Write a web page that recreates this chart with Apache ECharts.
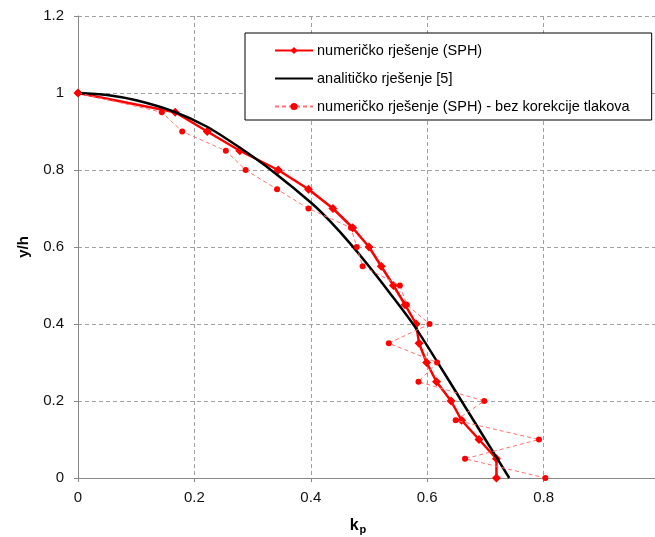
<!DOCTYPE html>
<html>
<head>
<meta charset="utf-8">
<script src="https://cdn.jsdelivr.net/npm/echarts@6/dist/echarts.min.js"></script>
<style>
html,body{margin:0;padding:0;background:#fff;}
#chart{width:655px;height:537px;}
</style>
</head>
<body>
<div id="chart"></div>
<script>
// y/h levels shared by both SPH series
const yLevels = [1, 0.95, 0.9, 0.85, 0.8, 0.75, 0.7, 0.65, 0.6, 0.55, 0.5, 0.45, 0.4, 0.35, 0.3, 0.25, 0.2, 0.15, 0.1, 0.05, 0];
// numeričko rješenje (SPH) - k_p values
const kpSPH = [0, 0.167, 0.222, 0.278, 0.344, 0.396, 0.438, 0.472, 0.500, 0.521, 0.542, 0.562, 0.581, 0.586, 0.599, 0.616, 0.641, 0.659, 0.689, 0.719, 0.719];
// numeričko rješenje (SPH) - bez korekcije tlakova
const kpNoCorr = [0, 0.144, 0.179, 0.254, 0.288, 0.342, 0.396, 0.469, 0.479, 0.489, 0.553, 0.565, 0.604, 0.534, 0.617, 0.585, 0.698, 0.649, 0.792, 0.665, 0.803];
// analitičko rješenje [5]
const kpAnalytic = [0, 0.05, 0.100, 0.164, 0.221, 0.279, 0.336, 0.402, 0.433, 0.470, 0.502, 0.536, 0.576, 0.616, 0.659, 0.700, 0.741];
const yAnalytic = [1, 0.995, 0.981, 0.952, 0.913, 0.857, 0.795, 0.713, 0.667, 0.605, 0.546, 0.480, 0.399, 0.305, 0.200, 0.100, 0];

const seriesNames = ['numeričko rješenje (SPH)', 'analitičko rješenje [5]', 'numeričko rješenje (SPH) - bez korekcije tlakova'];
const xTicks = {min: 0, max: 1, interval: 0.2};
const yTicks = {min: 0, max: 1.2, interval: 0.2};

const pair = (xs, ys) => xs.map((x, i) => [x, ys[i]]);

const font = 'Liberation Sans, Arial, sans-serif';
const chart = echarts.init(document.getElementById('chart'), null, {renderer: 'canvas'});
chart.setOption({
  animation: false,
  backgroundColor: '#fff',
  textStyle: {fontFamily: font},
  grid: {left: 78, top: 16, width: 582, height: 462, containLabel: false, outerBoundsMode: 'none'},
  legend: {
    left: 245, top: 33,
    orient: 'vertical',
    data: seriesNames,
    backgroundColor: '#fff',
    borderColor: '#000', borderWidth: 1,
    padding: [10, 22, 6, 29],
    itemWidth: 38, itemHeight: 9, itemGap: 13,
    textStyle: {fontFamily: font, fontSize: 14.5, color: '#000', padding: [0, 0, 0, -1]}
  },
  xAxis: {
    type: 'value', min: xTicks.min, max: xTicks.max, interval: xTicks.interval,
    name: '{a|k}{b|p}', nameLocation: 'middle', nameGap: 38,
    nameTextStyle: {
      padding: [0, 22, 0, 0],
      rich: {
        a: {fontFamily: font, fontSize: 16, fontWeight: 'bold', color: '#000'},
        b: {fontFamily: font, fontSize: 11, fontWeight: 'bold', color: '#000', padding: [8, 0, 0, 1]}
      }
    },
    axisLine: {show: true, lineStyle: {color: '#888', width: 1}},
    axisTick: {show: true, length: 4, lineStyle: {color: '#888'}},
    axisLabel: {fontFamily: font, fontSize: 15, color: '#111', margin: 12},
    splitLine: {show: true, lineStyle: {color: '#a0a0a0', width: 1, type: [4, 3]}}
  },
  yAxis: {
    type: 'value', min: yTicks.min, max: yTicks.max, interval: yTicks.interval,
    name: 'y/h', nameLocation: 'middle', nameGap: 47,
    nameTextStyle: {fontFamily: font, fontSize: 15, fontWeight: 'bold', color: '#000'},
    axisLine: {show: true, lineStyle: {color: '#888', width: 1}},
    axisTick: {show: true, length: 4, lineStyle: {color: '#888'}},
    axisLabel: {fontFamily: font, fontSize: 15, color: '#111', margin: 14},
    splitLine: {show: true, lineStyle: {color: '#a0a0a0', width: 1, type: [4, 3]}}
  },
  series: [
    {
      name: seriesNames[0], type: 'line',
      data: pair(kpSPH, yLevels),
      symbol: 'diamond', symbolSize: 9,
      itemStyle: {color: '#ff0000'},
      lineStyle: {color: '#ff0000', width: 2.5},
      z: 3
    },
    {
      name: seriesNames[1], type: 'line',
      data: pair(kpAnalytic, yAnalytic),
      smooth: 0.3, symbol: 'none', showSymbol: false,
      itemStyle: {color: 'rgba(0,0,0,0)'},
      lineStyle: {color: '#000', width: 2.5},
      z: 4
    },
    {
      name: seriesNames[2], type: 'line',
      data: pair(kpNoCorr, yLevels),
      symbol: 'circle', symbolSize: 6,
      itemStyle: {color: '#ff0000'},
      lineStyle: {color: '#ff7070', width: 1, type: [4, 3]},
      z: 5
    }
  ]
});
</script>
</body>
</html>
